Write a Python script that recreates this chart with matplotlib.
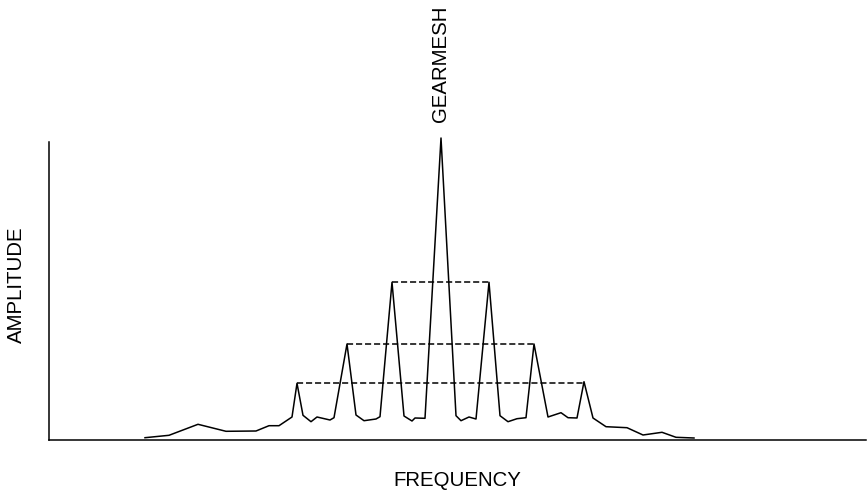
import matplotlib
matplotlib.use("Agg")
import matplotlib.pyplot as plt
import numpy as np

# spectrum (arbitrary units)
freq = [96, 120, 149, 177, 207, 220, 230, 243, 248, 254, 262, 268, 281, 285,
        298, 307, 315, 327, 331, 343, 355, 363, 366, 376, 392, 407, 412, 420,
        427, 440, 451, 459, 468, 477, 485, 499, 512, 519, 528, 535, 544, 557,
        578, 594, 613, 627, 645]
amp = [2.3, 4.7, 15.7, 8.7, 9, 14.3, 14.3, 23, 56.7, 24.7, 18.3, 23, 20, 22.3,
       96, 25, 19.3, 21, 23.3, 157.7, 24, 19, 22, 21.7, 302, 24.3, 19.3, 23,
       21, 157.7, 24.3, 18.3, 21.3, 22.3, 96, 23, 27.3, 22.3, 22, 58.3, 22,
       13.3, 12.3, 5, 7.7, 2.7, 2]

# sideband pairs: level, left freq, right freq
sb_level = [57, 96, 157.7]
sb_left = [248, 298, 343]
sb_right = [535, 485, 440]

gearmesh_freq = 392

plt.rcParams['font.family'] = ['Liberation Sans', 'DejaVu Sans']

W, H = 868, 492
fig = plt.figure(figsize=(W / 100, H / 100), dpi=100)
ax = fig.add_axes([49 / W, (H - 440) / H, (866 - 49) / W, (440 - 142) / H])

ax.plot(freq, amp, color='k', lw=1.1, clip_on=False)
for lev, a, b in zip(sb_level, sb_left, sb_right):
    ax.plot([a, b], [lev, lev], color='k', lw=1.1, linestyle=(0, (4, 1.9)))

ax.set_xlim(0, 817)
ax.set_ylim(0, 298)
ax.spines['top'].set_visible(False)
ax.spines['right'].set_visible(False)
ax.spines['left'].set_linewidth(1.1)
ax.spines['bottom'].set_linewidth(1.1)
ax.set_xticks([])
ax.set_yticks([])

fig.text(457.5 / W, 1 - 480.5 / H, 'FREQUENCY', fontsize=14.7,
         ha='center', va='center')
fig.text(16.5 / W, 1 - 285 / H, 'AMPLITUDE', fontsize=14.7,
         ha='center', va='center', rotation=90)
ax.annotate('GEARMESH', xy=(gearmesh_freq, 302), xytext=(0, 11.5),
            textcoords='offset points', fontsize=14.7, rotation=90,
            ha='center', va='bottom', annotation_clip=False)

fig.savefig('out.png', dpi=100)
